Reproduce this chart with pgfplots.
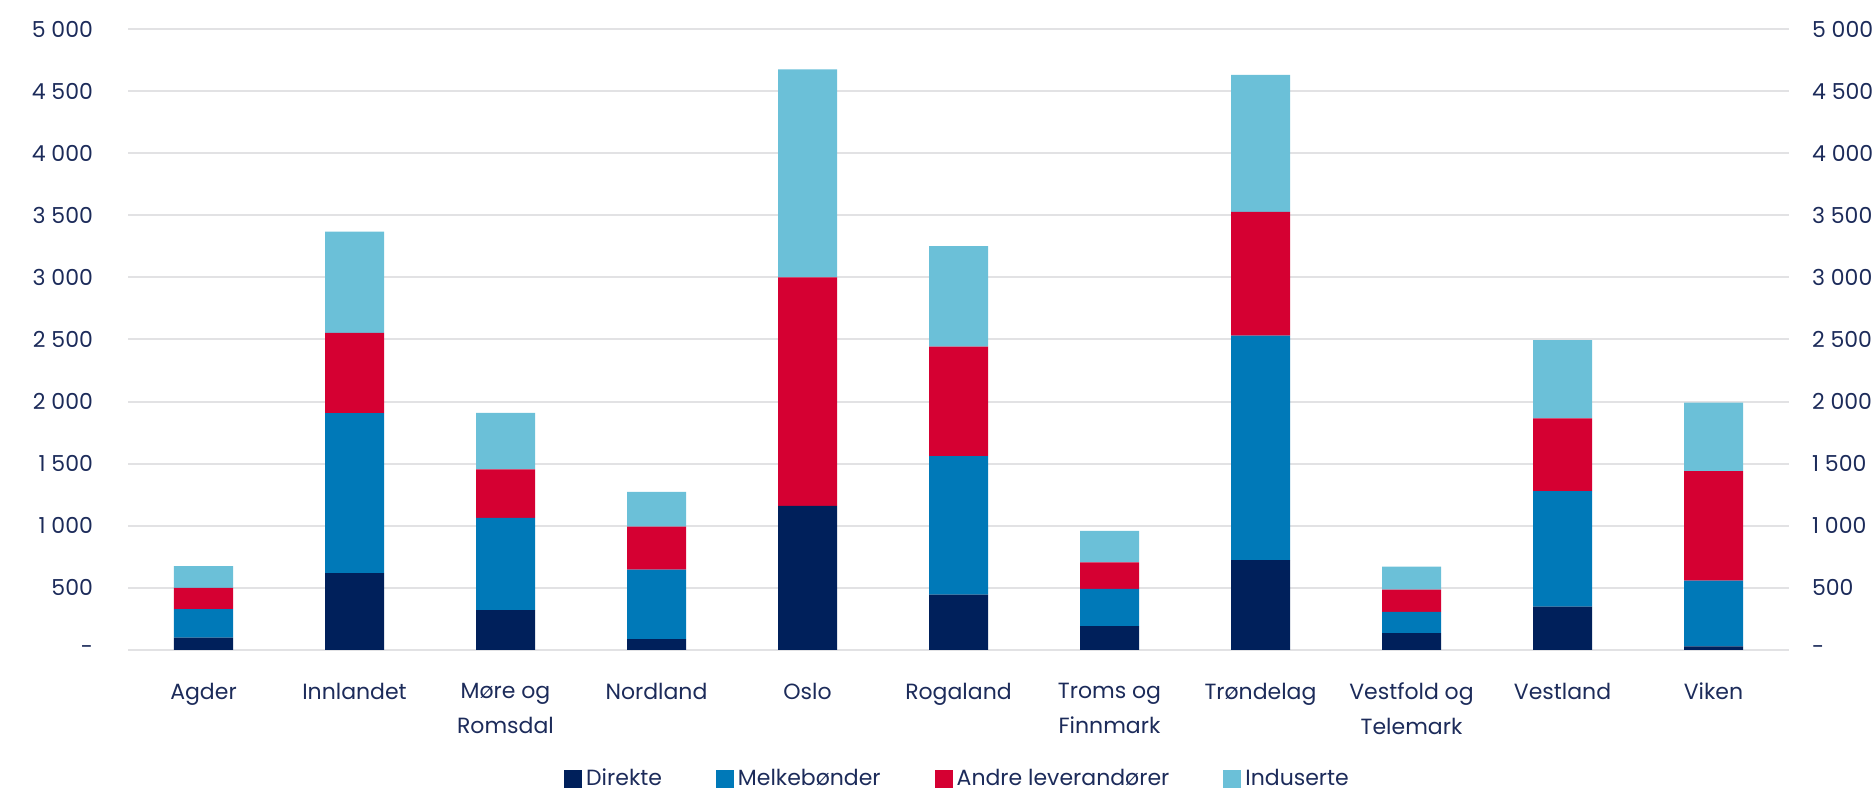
\documentclass[border=0pt]{standalone}
\usepackage{fontspec}
\setmainfont{Poppins}
\usepackage{pgfplots}
\pgfplotsset{compat=1.18}
\usepackage{pgfplotstable}
\usetikzlibrary{calc}

\definecolor{navy}{HTML}{00205B}
\definecolor{melk}{HTML}{0079B8}
\definecolor{andre}{HTML}{D50032}
\definecolor{indu}{HTML}{6BC0D8}
\definecolor{txt}{HTML}{1C2B5A}
\definecolor{grid}{HTML}{E2E2E4}

% region index, Direkte, Melkebonder, Andre leverandorer, Induserte
\pgfplotstableread{
x D M A I
0 100 228 172 175
1 618 1290 645 816
2 320 744 390 455
3 87 561 345 280
4 1160 0 1840 1674
5 445 1116 882 808
6 193 300 213 253
7 724 1808 996 1103
8 136 170 180 185
9 350 929 585 631
10 30 528 882 552
}\data

\begin{document}
\begin{tikzpicture}
\begin{axis}[
  width=830.5pt, height=310.5pt, scale only axis,
  ybar stacked, bar width=29.5pt,
  xmin=-0.5, xmax=10.5, ymin=0, ymax=5000,
  axis line style={draw=none},
  major tick length=0pt,
  ymajorgrids, major grid style={draw=grid, line width=1pt},
  xtick={0,...,10},
  xticklabels={Agder, Innlandet, {Møre og\\Romsdal}, Nordland, Oslo, Rogaland,
    {Troms og\\Finnmark}, Trøndelag, {Vestfold og\\Telemark}, Vestland, Viken},
  xticklabel style={align=center, text=txt, font=\fontsize{11}{17.5}\selectfont, yshift=-13pt},
  ytick={0,500,...,5000},
  yticklabels={-,500,1 000,1 500,2 000,2 500,3 000,3 500,4 000,4 500,5 000},
  yticklabel style={text=txt, font=\fontsize{11}{13}\selectfont, xshift=-14pt},
  legend columns=4,
  legend style={at={(0.5,-0.234)}, anchor=south, draw=none, fill=none,
    font=\fontsize{11}{13}\selectfont, text=txt, inner sep=1pt,
    /tikz/every even column/.append style={column sep=25pt}},
  legend image code/.code={\fill[#1] (0pt,-4.5pt) rectangle (9pt,4.5pt);},
]
\addplot[fill=navy, draw=none] table[x=x, y=D] {\data};
\addplot[fill=melk, draw=none] table[x=x, y=M] {\data};
\addplot[fill=andre, draw=none] table[x=x, y=A] {\data};
\addplot[fill=indu, draw=none] table[x=x, y=I] {\data};
\legend{Direkte, Melkebønder, Andre leverandører, Induserte}
\coordinate (bl) at (rel axis cs:0,0);
\coordinate (tl) at (rel axis cs:0,1);
\end{axis}
\begin{axis}[
  width=830.5pt, height=310.5pt, scale only axis,
  xmin=-0.5, xmax=10.5, ymin=0, ymax=5000,
  hide x axis, axis y line*=right, y axis line style={draw=none},
  major tick length=0pt,
  ytick={0,500,...,5000},
  yticklabels={-,500,1 000,1 500,2 000,2 500,3 000,3 500,4 000,4 500,5 000},
  yticklabel style={text=txt, font=\fontsize{11}{13}\selectfont, xshift=8pt},
]
\addplot[draw=none] coordinates {(0,0)};
\end{axis}
\pgfresetboundingbox
\path[use as bounding box] ($(bl)+(-64pt,-74.5pt)$) rectangle ($(tl)+(874pt,14.5pt)$);
\end{tikzpicture}
\end{document}
